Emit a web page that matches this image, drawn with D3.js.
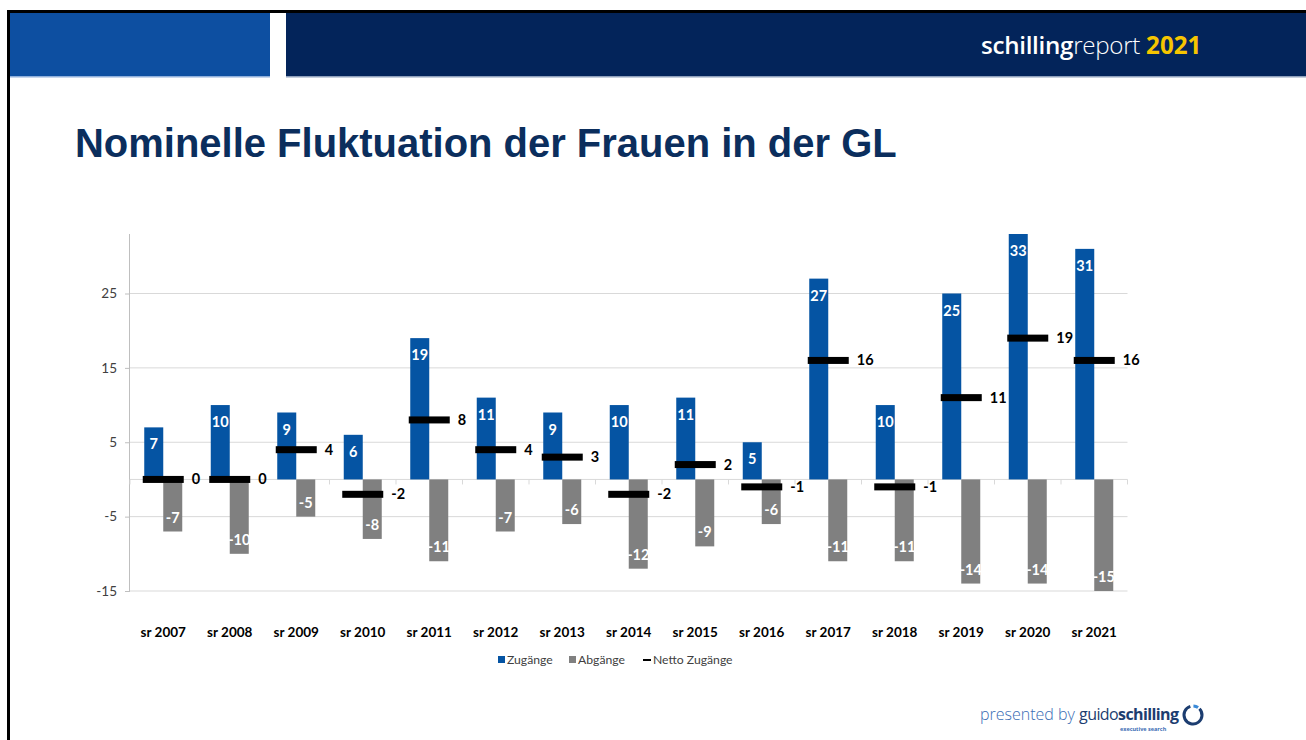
<!DOCTYPE html>
<html><head><meta charset="utf-8">
<script src="https://cdn.jsdelivr.net/npm/d3@7/dist/d3.min.js"></script>
<style>
html,body{margin:0;padding:0;background:#fff;overflow:hidden}
svg{display:block}
</style></head>
<body>
<svg id="c" width="1306" height="740"></svg>
<script>
// ---- data ----
const categories = ["sr 2007","sr 2008","sr 2009","sr 2010","sr 2011","sr 2012","sr 2013","sr 2014","sr 2015","sr 2016","sr 2017","sr 2018","sr 2019","sr 2020","sr 2021"];
const zugaenge = [7,10,9,6,19,11,9,10,11,5,27,10,25,33,31];
const abgaenge = [-7,-10,-5,-8,-11,-7,-6,-12,-9,-6,-11,-11,-14,-14,-15];
const netto = [0,0,4,-2,8,4,3,-2,2,-1,16,-1,11,19,16];
const yTicks = [25,15,5,-5,-15];
const legendLabels = ["Zugänge","Abgänge","Netto Zugänge"];
const title = "Nominelle Fluktuation der Frauen in der GL";

const svg = d3.select("#c");
const F = "Lato, 'Open Sans', sans-serif";
const BLUE = "#0554a3", GRAY = "#808080";

// ---- slide frame / header ----
svg.append("rect").attr("x",10).attr("y",13).attr("width",260).attr("height",63).attr("fill","#0d4fa1");
svg.append("rect").attr("x",286).attr("y",13).attr("width",1020).attr("height",63).attr("fill","#03245a");
// faint arc in header (clipped to header band)
svg.append("clipPath").attr("id","hclip").append("rect").attr("x",286).attr("y",13).attr("width",1020).attr("height",63);
const arcH = d3.arc().innerRadius(40).outerRadius(48).startAngle(-1.75).endAngle(1.6);
svg.append("path").attr("d",arcH()).attr("transform","translate(1086,86)").attr("clip-path","url(#hclip)")
  .attr("fill","#ffffff").attr("fill-opacity",0.13);
svg.append("rect").attr("x",10).attr("y",76).attr("width",260).attr("height",1.5).attr("fill","#8fb0dc");
svg.append("rect").attr("x",286).attr("y",76).attr("width",1020).attr("height",1.5).attr("fill","#8fa0bc");
svg.append("rect").attr("x",7).attr("y",10).attr("width",1299).attr("height",3).attr("fill","#000");
svg.append("rect").attr("x",7).attr("y",10).attr("width",3).attr("height",730).attr("fill","#000");

const hdr = svg.append("text").attr("x",981).attr("y",54).attr("font-family","'Open Sans', sans-serif").attr("font-size",22);
hdr.append("tspan").attr("fill","#fff").attr("font-weight",600).attr("letter-spacing",-0.3).text("schilling");
hdr.append("tspan").attr("fill","#fff").attr("font-weight",300).attr("letter-spacing",-0.3).text("report ");
hdr.append("tspan").attr("fill","#f6c500").attr("font-weight",700).text("2021");
const hw = hdr.node().getComputedTextLength();
hdr.attr("font-size", 22*220/hw);

// ---- title ----
const t = svg.append("text").attr("x",75).attr("y",157).attr("fill","#0b2e5d")
  .attr("font-family","'Liberation Sans', Arial, sans-serif").attr("font-weight","bold").attr("font-size",36).text(title);
const tw = t.node().getComputedTextLength();
t.attr("font-size", 36*822/tw);

// ---- chart ----
const x0 = 130, x1 = 1127.5;
const x = d3.scaleBand().domain(categories).range([x0,x1]).padding(0);
const y = d3.scaleLinear().domain([-15,33]).range([591,234]);
const bw = 19;

const g = svg.append("g");
// gridlines
g.selectAll(".grid").data(yTicks).enter().append("line")
  .attr("x1",x0).attr("x2",x1).attr("y1",d=>y(d)).attr("y2",d=>y(d))
  .attr("stroke","#d9d9d9").attr("stroke-width",1);
// y axis
const ya = g.append("g").attr("transform",`translate(${x0},0)`)
  .call(d3.axisLeft(y).tickValues(yTicks).tickSize(5).tickPadding(8).tickFormat(d=>String(d)));
ya.select(".domain").attr("stroke","#bfbfbf").attr("d",`M-0.5,${y(33)}V${y(-15)}`);
ya.selectAll(".tick line").attr("stroke","#bfbfbf");
ya.selectAll(".tick text").attr("font-family",F).attr("font-size",13.5).attr("fill","#404040");

// zero line + category ticks
g.append("line").attr("x1",x0).attr("x2",x1).attr("y1",y(0)).attr("y2",y(0)).attr("stroke","#d9d9d9");
g.selectAll(".ctick").data(categories.concat([null])).enter().append("line")
  .attr("x1",(d,i)=>x0+i*x.bandwidth()).attr("x2",(d,i)=>x0+i*x.bandwidth())
  .attr("y1",y(0)).attr("y2",y(0)+5).attr("stroke","#d9d9d9");

// bars
const cx = d => x(d)+x.bandwidth()/2;
g.selectAll(".zb").data(categories).enter().append("rect")
  .attr("x",d=>cx(d)-bw).attr("width",bw)
  .attr("y",(d,i)=>y(zugaenge[i])).attr("height",(d,i)=>y(0)-y(zugaenge[i]))
  .attr("fill",BLUE);
g.selectAll(".ab").data(categories).enter().append("rect")
  .attr("x",d=>cx(d)).attr("width",bw)
  .attr("y",y(0)).attr("height",(d,i)=>y(abgaenge[i])-y(0))
  .attr("fill",GRAY);

// bar labels
g.selectAll(".zl").data(categories).enter().append("text")
  .attr("x",d=>cx(d)-bw/2).attr("y",(d,i)=>y(zugaenge[i])+22)
  .attr("text-anchor","middle").attr("font-family",F).attr("font-weight","bold").attr("font-size",14.5)
  .attr("fill","#fff").text((d,i)=>zugaenge[i]);
g.selectAll(".al").data(categories).enter().append("text")
  .attr("x",d=>cx(d)+bw/2).attr("y",(d,i)=>y(abgaenge[i])-9)
  .attr("text-anchor","middle").attr("font-family",F).attr("font-weight","bold").attr("font-size",14.5)
  .attr("fill","#fff").text((d,i)=>abgaenge[i]);

// netto markers
const mw = 41, mh = 7;
g.selectAll(".nm").data(categories).enter().append("rect")
  .attr("x",d=>cx(d)-mw/2).attr("width",mw)
  .attr("y",(d,i)=>y(netto[i])-mh/2).attr("height",mh).attr("fill","#000");
g.selectAll(".nl").data(categories).enter().append("text")
  .attr("x",d=>cx(d)+mw/2+8).attr("y",(d,i)=>y(netto[i])+5)
  .attr("font-family",F).attr("font-weight","bold").attr("font-size",14.5)
  .attr("fill","#000").text((d,i)=>netto[i]);

// x labels
g.selectAll(".xl").data(categories).enter().append("text")
  .attr("x",d=>cx(d)).attr("y",637).attr("text-anchor","middle")
  .attr("font-family",F).attr("font-weight","bold").attr("font-size",13.5).attr("fill","#000").text(d=>d);

// legend
const leg = svg.append("g").attr("font-family",F).attr("font-size",12.2).attr("fill","#404040");
const lx = [498,569,643];
leg.append("rect").attr("x",lx[0]).attr("y",656).attr("width",7).attr("height",7).attr("fill",BLUE);
leg.append("rect").attr("x",lx[1]).attr("y",656).attr("width",7).attr("height",7).attr("fill",GRAY);
leg.append("rect").attr("x",lx[2]).attr("y",659).attr("width",8).attr("height",2).attr("fill","#000");
leg.selectAll(".lt").data(legendLabels).enter().append("text")
  .attr("x",(d,i)=>lx[i]+(i==2?10:9)).attr("y",664).text(d=>d);

// footer
const ft = svg.append("text").attr("x",980).attr("y",720).attr("font-family","'Open Sans', sans-serif");
ft.append("tspan").attr("fill","#3a6cb4").attr("font-size",16).attr("font-weight",300).text("presented by ");
ft.append("tspan").attr("fill","#1c3d70").attr("font-size",16).attr("font-weight",400).attr("letter-spacing",-0.6).text("guido");
ft.append("tspan").attr("fill","#1c3d70").attr("font-size",16).attr("font-weight",700).attr("letter-spacing",-0.6).text("schilling");
svg.append("text").attr("x",1120).attr("y",731).attr("font-family","'Open Sans', sans-serif")
  .attr("font-size",5.5).attr("font-weight",700).attr("fill","#3a6cb4").text("executive search");
const ring = d3.arc().innerRadius(7.5).outerRadius(10.5);
svg.append("path").attr("transform","translate(1193,715)")
  .attr("d",ring({startAngle:0.8,endAngle:2*Math.PI-0.3})).attr("fill","#1c3d70");
svg.append("path").attr("transform","translate(1193,715)")
  .attr("d",ring({startAngle:0.05,endAngle:0.6})).attr("fill","#3a8ad8");
</script>
</body></html>
